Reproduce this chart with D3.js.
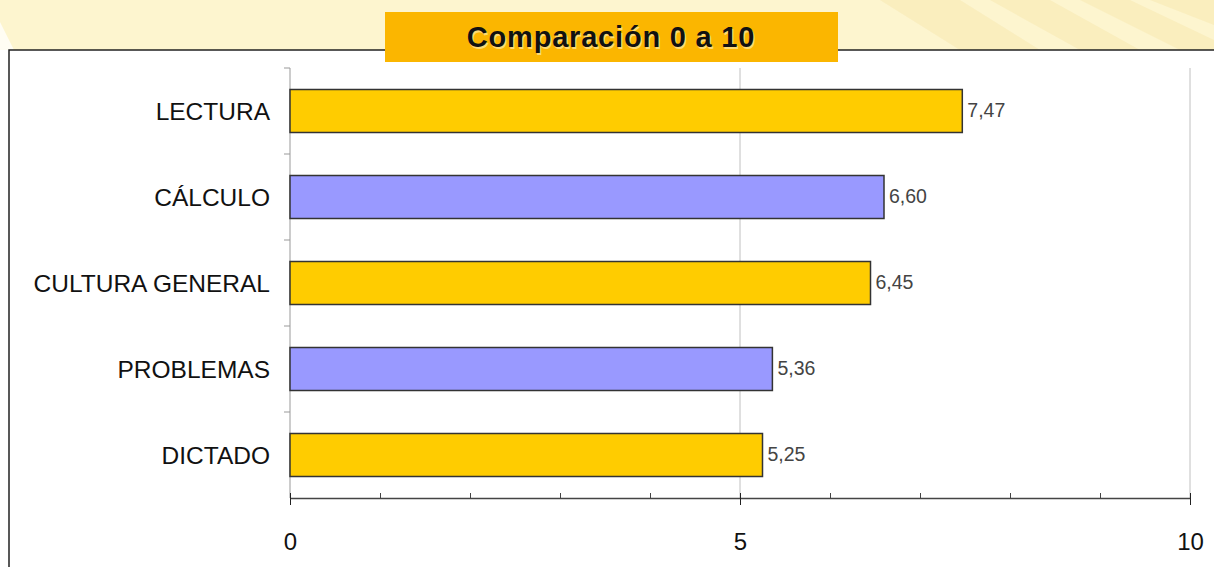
<!DOCTYPE html>
<html>
<head>
<meta charset="utf-8">
<script src="https://cdn.jsdelivr.net/npm/d3@7"></script>
<style>
  body { margin: 0; background: #fff; }
  svg { display: block; font-family: "Liberation Sans", Arial, sans-serif; }
</style>
</head>
<body>
<div id="chart"></div>
<script>
// data
var categories = ["LECTURA", "CÁLCULO", "CULTURA GENERAL", "PROBLEMAS", "DICTADO"];
var values = [7.47, 6.60, 6.45, 5.36, 5.25];
var majorTicks = [0, 5, 10];
var minorTicks = [1, 2, 3, 4, 6, 7, 8, 9];
var title = "Comparación 0 a 10";

var W = 1214, H = 567;
var margin = {top: 68, left: 290, right: 24, bottom: 69};

var svg = d3.select("#chart").append("svg")
    .attr("width", W)
    .attr("height", H);

// pale cream band behind the title, with some soft diagonal streaks
svg.append("rect").attr("x", 0).attr("y", 0).attr("width", W).attr("height", 50)
    .attr("fill", "#fdf5cf");
svg.append("path").attr("d", "M0,22 L0,50 L14,50 Z").attr("fill", "#fffdf3");
var streaks = [
  "M880,0 L960,0 L1040,50 L960,50 Z",
  "M990,0 L1050,0 L1140,50 L1080,50 Z",
  "M1080,0 L1130,0 L1214,40 L1214,50 L1180,50 Z",
  "M1150,0 L1214,0 L1214,25 Z"
];
svg.selectAll("path.streak").data(streaks).enter().append("path")
    .attr("class", "streak")
    .attr("d", function(d) { return d; })
    .attr("fill", "#f6e3a6")
    .attr("opacity", 0.4);

// chart frame (only top and left edges visible)
svg.append("rect").attr("x", 9).attr("y", 50).attr("width", W).attr("height", H)
    .attr("fill", "#fff")
    .attr("stroke", "#222")
    .attr("stroke-width", 1.5);

var x = d3.scaleLinear()
    .domain([0, 10])
    .range([margin.left, W - margin.right]);

var y = d3.scaleBand()
    .domain(categories)
    .range([margin.top, H - margin.bottom])
    .paddingInner(0.5)
    .paddingOuter(0.25);

var color = d3.scaleOrdinal()
    .domain(categories)
    .range(["#ffcc00", "#9999ff"]);

// vertical gridlines
svg.selectAll("line.grid").data(majorTicks.slice(1)).enter().append("line")
    .attr("class", "grid")
    .attr("x1", function(d) { return x(d); })
    .attr("x2", function(d) { return x(d); })
    .attr("y1", margin.top)
    .attr("y2", H - margin.bottom)
    .attr("stroke", "#c0c0c0")
    .attr("stroke-width", 1);

// y axis: line plus ticks at the band boundaries
svg.append("line")
    .attr("x1", x(0)).attr("x2", x(0))
    .attr("y1", margin.top).attr("y2", H - margin.bottom)
    .attr("stroke", "#999");
var bounds = categories.map(function(c) { return y(c) - (y.step() - y.bandwidth()) / 2; });
svg.selectAll("line.ytick").data(bounds).enter().append("line")
    .attr("class", "ytick")
    .attr("x1", x(0) - 6).attr("x2", x(0))
    .attr("y1", function(d) { return d; })
    .attr("y2", function(d) { return d; })
    .attr("stroke", "#999");

svg.selectAll("text.cat").data(categories).enter().append("text")
    .attr("class", "cat")
    .attr("x", x(0) - 20)
    .attr("y", function(d) { return y(d) + y.bandwidth() / 2; })
    .attr("dy", "0.36em")
    .attr("text-anchor", "end")
    .attr("font-size", 24.5)
    .attr("fill", "#111")
    .text(function(d) { return d; });

// bars
svg.selectAll("rect.bar").data(values).enter().append("rect")
    .attr("class", "bar")
    .attr("x", x(0))
    .attr("y", function(d, i) { return y(categories[i]); })
    .attr("width", function(d) { return x(d) - x(0); })
    .attr("height", y.bandwidth())
    .attr("fill", function(d, i) { return color(categories[i]); })
    .attr("stroke", "#333")
    .attr("stroke-width", 1.5);

svg.selectAll("text.val").data(values).enter().append("text")
    .attr("class", "val")
    .attr("x", function(d) { return x(d) + 5; })
    .attr("y", function(d, i) { return y(categories[i]) + y.bandwidth() / 2 - 1; })
    .attr("dy", "0.36em")
    .attr("font-size", 19.5)
    .attr("fill", "#444")
    .text(function(d) { return d.toFixed(2).replace(".", ","); });

// x axis
var axisY = H - margin.bottom;
var minor = svg.append("g")
    .attr("transform", "translate(0," + axisY + ")")
    .call(d3.axisBottom(x).tickValues(minorTicks).tickSize(-5).tickFormat(""));
minor.select(".domain").remove();
minor.selectAll("line").attr("stroke", "#444");

var xAxis = svg.append("g")
    .attr("transform", "translate(0," + axisY + ")")
    .call(d3.axisBottom(x).tickValues(majorTicks).tickSizeOuter(0));
xAxis.select(".domain").attr("stroke", "#444").attr("stroke-width", 1.5);
xAxis.selectAll(".tick line").attr("y1", -5).attr("y2", 7).attr("stroke", "#222");
xAxis.selectAll(".tick text")
    .attr("y", 52).attr("dy", null)
    .attr("font-size", 24)
    .attr("font-family", "Liberation Sans, Arial, sans-serif")
    .attr("fill", "#111");

// title box
svg.append("rect")
    .attr("x", 385).attr("y", 12).attr("width", 453).attr("height", 50)
    .attr("fill", "#fbb600");
svg.append("text")
    .attr("x", 611).attr("y", 47)
    .attr("text-anchor", "middle")
    .attr("font-size", 29)
    .attr("font-weight", "bold")
    .attr("letter-spacing", 0.8)
    .attr("fill", "#fff3c0")
    .attr("opacity", 0.6)
    .attr("transform", "translate(1.5,1.5)")
    .text(title);
svg.append("text")
    .attr("x", 611).attr("y", 47)
    .attr("text-anchor", "middle")
    .attr("font-size", 29)
    .attr("font-weight", "bold")
    .attr("letter-spacing", 0.8)
    .attr("fill", "#111")
    .text(title);
</script>
</body>
</html>
